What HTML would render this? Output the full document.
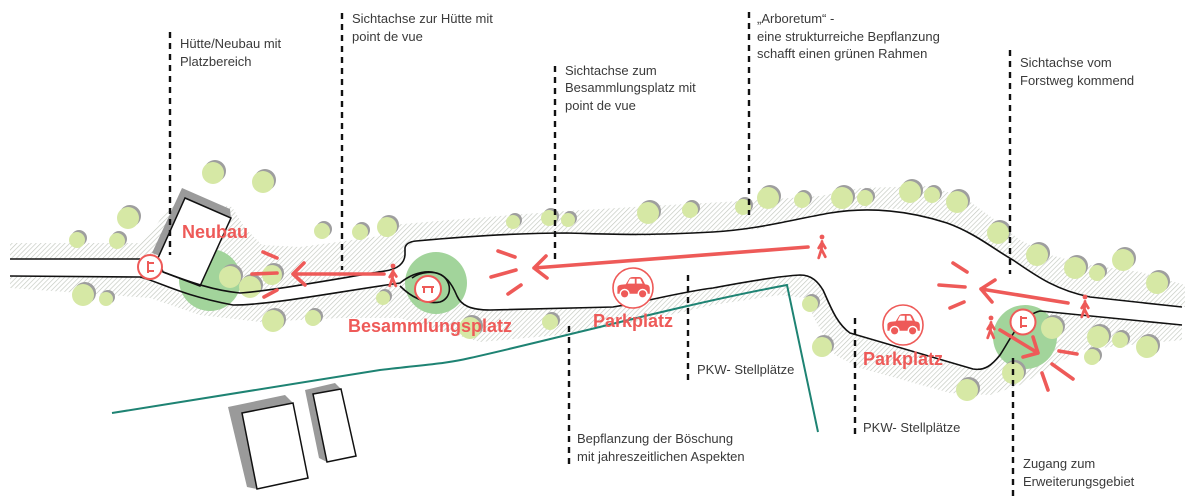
<!DOCTYPE html>
<html><head><meta charset="utf-8"><style>
html,body{margin:0;padding:0;background:#fff;}
body{width:1200px;height:502px;overflow:hidden;}
svg{display:block;}
.t{font-family:"Liberation Sans",sans-serif;font-size:13px;fill:#3a3a3a;}
.r{font-family:"Liberation Sans",sans-serif;font-size:18px;font-weight:bold;fill:#ee5a58;}
</style></head><body>
<svg width="1200" height="502" viewBox="0 0 1200 502" xmlns="http://www.w3.org/2000/svg">
<defs>
<pattern id="h" width="3.4" height="3.4" patternUnits="userSpaceOnUse" patternTransform="rotate(45)">
<rect width="3.4" height="3.4" fill="#fff"/>
<line x1="0" y1="0" x2="0" y2="3.4" stroke="#c3c8bf" stroke-width="1.3"/>
</pattern>
</defs>
<rect width="1200" height="502" fill="#fff"/>

<!-- hatched bands -->
<polygon fill="url(#h)" points="10,243 140,243 152,232 165,212 178,200 232,207 245,228 262,245 300,247 345,241 380,236 405,233 405,248 404,262 385,271 330,280 260,290 240,293 200,286 163,272 150,265 140,259 10,259"/>
<polygon fill="url(#h)" points="10,276 140,277 180,293 233,305 267,303 330,293 400,283 430,272 452,283 458,297 470,308 490,310 613,307 647,300 713,288 793,275 810,275 823,290 843,330 855,335 973,369 990,366 1013,337 1040,311 1182,325 1182,340 1130,345 1080,350 1050,368 1020,385 990,395 950,393 860,368 835,355 815,320 805,298 780,295 713,305 640,322 560,335 480,342 400,318 340,318 260,322 200,315 150,298 10,288"/>
<polygon fill="url(#h)" points="380,226 450,220 550,212 650,206 760,200 820,196 860,188 930,186 965,198 995,220 1020,240 1050,255 1090,265 1140,272 1185,285 1185,307 1090,297 1047,282 1013,260 987,243 947,223 900,209 860,208 830,213 790,220 760,229 713,232 647,236 567,233 480,236 416,241 405,248 405,255 380,262"/>

<!-- green circles -->
<circle cx="210" cy="280" r="31" fill="#a2d49b"/>
<circle cx="436" cy="283" r="31" fill="#a2d49b"/>
<circle cx="1025" cy="337" r="32" fill="#a2d49b"/>

<!-- buildings -->
<polygon points="182,188 230,209 231,218 185,198 160,256 152,253" fill="#9a9a9a"/>
<polygon points="185,198 231,218 200,286 163,272 158,258" fill="#fff" stroke="#111" stroke-width="1.5"/>
<polygon points="228,407 285,395 293,403 242,413 257,489 247,487" fill="#9a9a9a"/>
<polygon points="242,413 293,403 308,478 257,489" fill="#fff" stroke="#111" stroke-width="1.5"/>
<polygon points="305,390 335,383 341,389 313,394 327,462 319,458" fill="#9a9a9a"/>
<polygon points="313,394 341,389 356,456 327,462" fill="#fff" stroke="#111" stroke-width="1.5"/>

<!-- trees -->
<g>
<g fill="#9e9e9e">
<circle cx="215" cy="171" r="11"/><circle cx="265" cy="180" r="11"/><circle cx="130" cy="216" r="11"/>
<circle cx="79" cy="238" r="8"/><circle cx="119" cy="239" r="8"/><circle cx="85" cy="293" r="11"/>
<circle cx="108" cy="297" r="7"/><circle cx="232" cy="275" r="11"/><circle cx="252" cy="285" r="11"/>
<circle cx="274" cy="273" r="10"/><circle cx="275" cy="319" r="11"/><circle cx="315" cy="316" r="8"/>
<circle cx="324" cy="229" r="8"/><circle cx="362" cy="230" r="8"/><circle cx="389" cy="225" r="10"/>
<circle cx="385" cy="296" r="7"/><circle cx="515" cy="220" r="7"/><circle cx="551" cy="216" r="8"/>
<circle cx="570" cy="218" r="7"/><circle cx="650" cy="211" r="11"/><circle cx="692" cy="208" r="8"/>
<circle cx="745" cy="205" r="8"/><circle cx="770" cy="196" r="11"/><circle cx="804" cy="198" r="8"/>
<circle cx="844" cy="196" r="11"/><circle cx="867" cy="196" r="8"/><circle cx="912" cy="190" r="11"/>
<circle cx="934" cy="193" r="8"/><circle cx="959" cy="200" r="11"/><circle cx="1000" cy="231" r="11"/>
<circle cx="1039" cy="253" r="11"/><circle cx="1077" cy="266" r="11"/><circle cx="1099" cy="271" r="8"/>
<circle cx="1125" cy="258" r="11"/><circle cx="1159" cy="281" r="11"/><circle cx="472" cy="326" r="11"/>
<circle cx="552" cy="320" r="8"/><circle cx="812" cy="302" r="8"/><circle cx="824" cy="345" r="10"/>
<circle cx="969" cy="388" r="11"/><circle cx="1015" cy="371" r="11"/><circle cx="1054" cy="326" r="11"/>
<circle cx="1100" cy="335" r="11"/><circle cx="1122" cy="338" r="8"/><circle cx="1149" cy="345" r="11"/>
<circle cx="1094" cy="355" r="8"/>
</g>
<g fill="#d6e8a5">
<circle cx="213" cy="173" r="11"/><circle cx="263" cy="182" r="11"/><circle cx="128" cy="218" r="11"/>
<circle cx="77" cy="240" r="8"/><circle cx="117" cy="241" r="8"/><circle cx="83" cy="295" r="11"/>
<circle cx="106" cy="299" r="7"/><circle cx="230" cy="277" r="11"/><circle cx="250" cy="287" r="11"/>
<circle cx="272" cy="275" r="10"/><circle cx="273" cy="321" r="11"/><circle cx="313" cy="318" r="8"/>
<circle cx="322" cy="231" r="8"/><circle cx="360" cy="232" r="8"/><circle cx="387" cy="227" r="10"/>
<circle cx="383" cy="298" r="7"/><circle cx="513" cy="222" r="7"/><circle cx="549" cy="218" r="8"/>
<circle cx="568" cy="220" r="7"/><circle cx="648" cy="213" r="11"/><circle cx="690" cy="210" r="8"/>
<circle cx="743" cy="207" r="8"/><circle cx="768" cy="198" r="11"/><circle cx="802" cy="200" r="8"/>
<circle cx="842" cy="198" r="11"/><circle cx="865" cy="198" r="8"/><circle cx="910" cy="192" r="11"/>
<circle cx="932" cy="195" r="8"/><circle cx="957" cy="202" r="11"/><circle cx="998" cy="233" r="11"/>
<circle cx="1037" cy="255" r="11"/><circle cx="1075" cy="268" r="11"/><circle cx="1097" cy="273" r="8"/>
<circle cx="1123" cy="260" r="11"/><circle cx="1157" cy="283" r="11"/><circle cx="470" cy="328" r="11"/>
<circle cx="550" cy="322" r="8"/><circle cx="810" cy="304" r="8"/><circle cx="822" cy="347" r="10"/>
<circle cx="967" cy="390" r="11"/><circle cx="1013" cy="373" r="11"/><circle cx="1052" cy="328" r="11"/>
<circle cx="1098" cy="337" r="11"/><circle cx="1120" cy="340" r="8"/><circle cx="1147" cy="347" r="11"/>
<circle cx="1092" cy="357" r="8"/>
</g>
</g>

<!-- road lines -->
<g fill="none" stroke="#111" stroke-width="1.6" stroke-linejoin="round">
<path d="M10,259 L140,259"/>
<path d="M163,272 C185,280 210,290 240,293 C270,291 330,280 385,271 Q404,268 405,255 L405,248 Q406,242 416,241 C470,236 520,233 567,233 C610,234 640,236 713,232 C760,229 790,220 830,213 C860,208 900,208 947,223 C975,233 995,250 1013,260 C1035,275 1055,290 1090,297 L1182,307"/>
<path d="M10,276 L140,277 C160,282 180,295 233,305 C270,305 330,293 400,283 C410,275 420,271 432,272 C446,274 452,284 457,296 C461,305 470,310 490,310 L613,307 C640,303 680,292 713,288 C750,281 780,276 800,275 C812,275 818,282 823,290 C830,305 836,323 850,333 L973,369 C985,371 992,365 1000,355 C1010,340 1020,316 1040,311 L1182,325"/>
<path d="M400,286 C410,296 425,305 440,302 C452,298 452,283 443,276 C435,270 420,272 412,278"/>
</g>

<!-- teal line -->
<path d="M112,413 C220,396 320,380 380,370 C420,365 445,364 470,358 C560,338 680,305 787,285 L818,432" fill="none" stroke="#1e8373" stroke-width="2"/>

<!-- dashed leader lines -->
<g stroke="#111" stroke-width="2.4" stroke-dasharray="6 5">
<line x1="170" y1="32" x2="170" y2="255"/>
<line x1="342" y1="13" x2="342" y2="270"/>
<line x1="555" y1="66" x2="555" y2="260"/>
<line x1="749" y1="12" x2="749" y2="215"/>
<line x1="1010" y1="50" x2="1010" y2="274"/>
<line x1="688" y1="275" x2="688" y2="380"/>
<line x1="569" y1="326" x2="569" y2="469"/>
<line x1="855" y1="318" x2="855" y2="438"/>
<line x1="1013" y1="358" x2="1013" y2="496"/>
</g>

<!-- red arrows and rays -->
<g fill="none" stroke="#ee5a58" stroke-width="3.6" stroke-linecap="round" stroke-linejoin="round">
<path d="M293,274 L384,274 M304,263 L293,274 L305,285"/>
<path d="M263,252 L277,258 M252,274 L277,273 M264,297 L277,290"/>
<path d="M534,268 L808,247 M546,256 L534,268 L547,278"/>
<path d="M498,251 L515,257 M491,277 L516,270 M508,294 L521,285"/>
<path d="M981,289 L1068,303 M995,280 L981,289 L992,302"/>
<path d="M953,263 L967,272 M939,285 L965,287 M950,308 L964,302"/>
<path d="M1000,330 L1038,353 M1033,337 L1038,353 L1023,357"/>
<path d="M1059,351 L1077,354 M1052,364 L1073,379 M1042,373 L1048,390"/>
</g>

<!-- pedestrians -->
<g fill="none" stroke="#ee5a58" stroke-width="2.5" stroke-linecap="round">
<g transform="translate(393,266) scale(1.1)"><circle cx="0" cy="0" r="2.2" fill="#ee5a58" stroke="none"/><path d="M0,4 L-0.5,11 L-3,18 M-0.5,11 L2.5,18 M0,5 L-3,10 M0,5 L3,9.5"/></g>
<g transform="translate(822,237) scale(1.1)"><circle cx="0" cy="0" r="2.2" fill="#ee5a58" stroke="none"/><path d="M0,4 L-0.5,11 L-3,19 M-0.5,11 L3,18 M0,5 L-3,10 M0,5 L3,10"/></g>
<g transform="translate(1085,297) scale(1.1)"><circle cx="0" cy="0" r="2.2" fill="#ee5a58" stroke="none"/><path d="M0,4 L-0.5,11 L-3,18 M-0.5,11 L3,18 M0,5 L-3,10 M0,5 L3,10"/></g>
<g transform="translate(991,318) scale(1.1)"><circle cx="0" cy="0" r="2.2" fill="#ee5a58" stroke="none"/><path d="M0,4 L-0.5,11 L-3,18 M-0.5,11 L2.5,18 M0,5 L-3,10 M0,5 L3,10"/></g>
</g>

<!-- bench icons -->
<g transform="translate(150,267)">
<circle r="12" fill="#fff" stroke="#ee5a58" stroke-width="2"/>
<path transform="rotate(-90)" d="M-6,-2 H6 M-4,-2 V4 M4,-2 V4" fill="none" stroke="#ee5a58" stroke-width="2"/>
</g>
<g transform="translate(428,289)">
<circle r="13" fill="#fff" stroke="#ee5a58" stroke-width="2"/>
<path d="M-6,-2 H6 M-4,-2 V4 M4,-2 V4" fill="none" stroke="#ee5a58" stroke-width="2"/>
</g>
<g transform="translate(1023,322)">
<circle r="12.5" fill="#fff" stroke="#ee5a58" stroke-width="2"/>
<path transform="rotate(-90)" d="M-6,-2 H6 M-4,-2 V4 M4,-2 V4" fill="none" stroke="#ee5a58" stroke-width="2"/>
</g>

<!-- car icons -->
<g transform="translate(633,288)">
<circle r="20" fill="#fff" stroke="#ee5a58" stroke-width="1.6"/>
<g transform="translate(0,1) scale(1.2)">
<path d="M-13,4 V-1 Q-13,-3 -10,-3.5 L-6,-4 L-3,-9 Q-2,-10 0,-10 L5,-10 Q7,-10 8,-8 L10,-4 L12,-3.5 Q14,-3 14,0 V4 Z" fill="#ee5a58"/>
<path d="M-4.5,-4.5 L-2.5,-8.5 H1.5 V-4.5 Z M3,-4.5 V-8.5 H6 L8,-4.5 Z" fill="#fff"/>
<circle cx="-7" cy="4" r="3.6" fill="#ee5a58" stroke="#fff" stroke-width="1.2"/>
<circle cx="8" cy="4" r="3.6" fill="#ee5a58" stroke="#fff" stroke-width="1.2"/>
</g>
</g>
<g transform="translate(903,325)">
<circle r="20" fill="#fff" stroke="#ee5a58" stroke-width="1.6"/>
<g transform="translate(0,1) scale(1.2)">
<path d="M-13,4 V-1 Q-13,-3 -10,-3.5 L-6,-4 L-3,-9 Q-2,-10 0,-10 L5,-10 Q7,-10 8,-8 L10,-4 L12,-3.5 Q14,-3 14,0 V4 Z" fill="#ee5a58"/>
<path d="M-4.5,-4.5 L-2.5,-8.5 H1.5 V-4.5 Z M3,-4.5 V-8.5 H6 L8,-4.5 Z" fill="#fff"/>
<circle cx="-7" cy="4" r="3.6" fill="#ee5a58" stroke="#fff" stroke-width="1.2"/>
<circle cx="8" cy="4" r="3.6" fill="#ee5a58" stroke="#fff" stroke-width="1.2"/>
</g>
</g>

<!-- red labels -->
<text class="r" x="182" y="238">Neubau</text>
<text class="r" x="348" y="332">Besammlungsplatz</text>
<text class="r" x="593" y="327">Parkplatz</text>
<text class="r" x="863" y="365">Parkplatz</text>

<!-- annotations -->
<text class="t" x="180" y="48">Hütte/Neubau mit</text>
<text class="t" x="180" y="66">Platzbereich</text>
<text class="t" x="352" y="23">Sichtachse zur Hütte mit</text>
<text class="t" x="352" y="41">point de vue</text>
<text class="t" x="565" y="75">Sichtachse zum</text>
<text class="t" x="565" y="92">Besammlungsplatz mit</text>
<text class="t" x="565" y="110">point de vue</text>
<text class="t" x="757" y="23">„Arboretum“ -</text>
<text class="t" x="757" y="41">eine strukturreiche Bepflanzung</text>
<text class="t" x="757" y="58">schafft einen grünen Rahmen</text>
<text class="t" x="1020" y="67">Sichtachse vom</text>
<text class="t" x="1020" y="85">Forstweg kommend</text>
<text class="t" x="697" y="374">PKW- Stellplätze</text>
<text class="t" x="577" y="443">Bepflanzung der Böschung</text>
<text class="t" x="577" y="461">mit jahreszeitlichen Aspekten</text>
<text class="t" x="863" y="432">PKW- Stellplätze</text>
<text class="t" x="1023" y="468">Zugang zum</text>
<text class="t" x="1023" y="486">Erweiterungsgebiet</text>
</svg>
</body></html>
